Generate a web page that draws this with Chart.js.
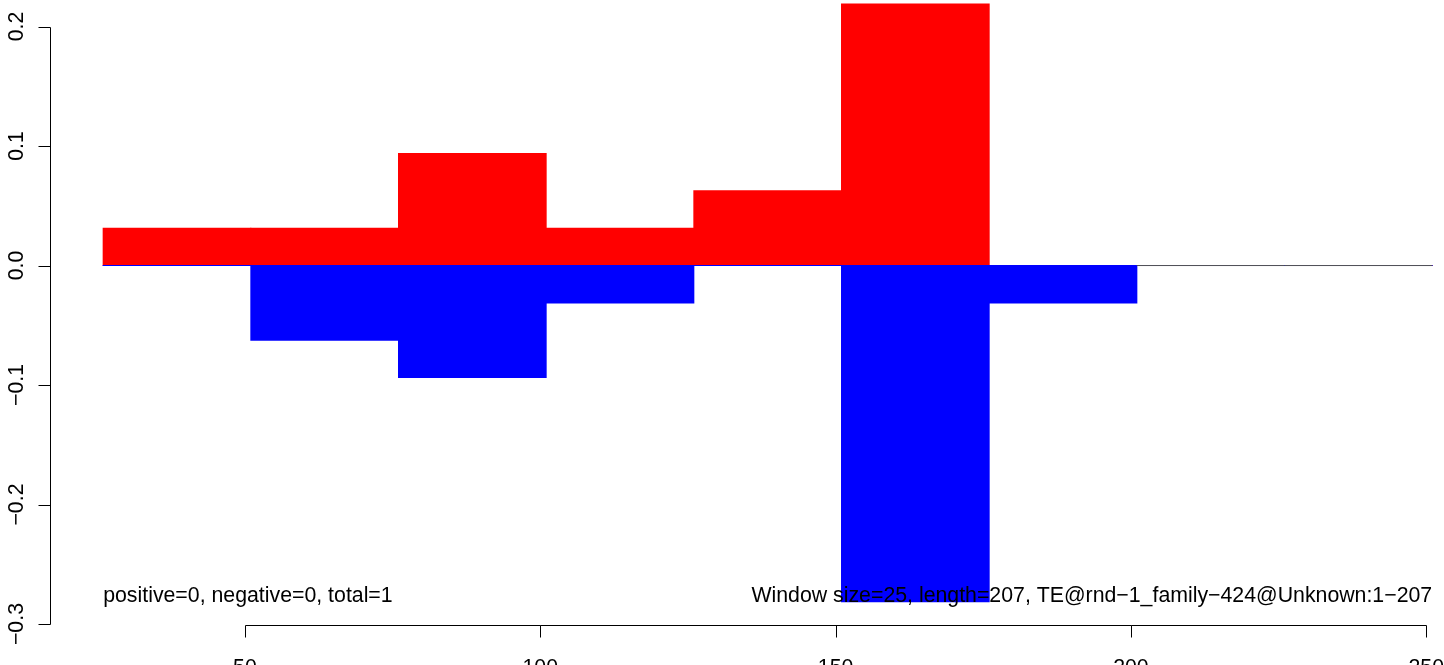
<!DOCTYPE html>
<html>
<head>
<meta charset="utf-8">
<title>TE window plot</title>
<script src="https://cdn.jsdelivr.net/npm/chart.js@4/dist/chart.umd.min.js"></script>
<style>
  html, body { margin: 0; padding: 0; background: #fff; }
  #myChart { display: block; }
</style>
</head>
<body>
<canvas id="myChart" width="1444" height="665"></canvas>
<script>
// window starts (size 25) and the two series
var windowSize = 25;
var windowStarts = [26, 51, 76, 101, 126, 151, 176, 201, 226];
var positiveVals = [0.03125, 0.03125, 0.09375, 0.03125, 0.0625, 0.21875, 0, 0, 0];
var negativeVals = [0, -0.0625, -0.09375, -0.03125, 0, -0.28125, -0.03125, 0, 0];
var xTicks = [50, 100, 150, 200, 250];
var yTicks = [-0.3, -0.2, -0.1, 0.0, 0.1, 0.2];
var yTickLabels = ['\u22120.3', '\u22120.2', '\u22120.1', '0.0', '0.1', '0.2'];
var leftNote = 'positive=0, negative=0, total=1';
var rightNote = 'Window size=25, length=207, TE@rnd\u22121_family\u2212424@Unknown:1\u2212207';

var font = '21.3px "Liberation Sans", Arial, Helvetica, sans-serif';

function barData(vals) {
    var out = [];
    for (var i = 0; i < windowStarts.length; i++) {
        out.push({ x: windowStarts[i] + windowSize / 2, y: vals[i] });
    }
    return out;
}

// thin line where a window has neither positive nor negative value
function emptyWindows() {
    var out = [];
    for (var i = 0; i < windowStarts.length; i++) {
        if (positiveVals[i] === 0 && negativeVals[i] === 0) {
            out.push({ x: windowStarts[i], y: 0 });
            out.push({ x: windowStarts[i] + windowSize, y: 0 });
        } else {
            out.push({ x: windowStarts[i] + windowSize / 2, y: null });
        }
    }
    return out;
}

function crisp(v) {
    return Math.round(v) + 0.5;
}

var rAxes = {
    id: 'rAxes',
    afterDatasetsDraw: function(chart) {
        var ctx = chart.ctx;
        var xs = chart.scales.x;
        var ys = chart.scales.y;
        var area = chart.chartArea;
        ctx.save();
        ctx.strokeStyle = '#000';
        ctx.fillStyle = '#000';
        ctx.lineWidth = 1;
        ctx.font = font;

        // notes at the bottom of the data range
        var yMinData = Math.min.apply(null, negativeVals);
        var xFirst = windowStarts[0];
        var xLast = windowStarts[windowStarts.length - 1] + windowSize;
        ctx.textBaseline = 'alphabetic';
        ctx.textAlign = 'left';
        ctx.fillText(leftNote, xs.getPixelForValue(xFirst), ys.getPixelForValue(yMinData));
        ctx.textAlign = 'right';
        ctx.fillText(rightNote, xs.getPixelForValue(xLast), ys.getPixelForValue(yMinData));

        // y axis
        var ax = crisp(area.left);
        var yTop = ys.getPixelForValue(yTicks[yTicks.length - 1]);
        var yBot = ys.getPixelForValue(yTicks[0]);
        ctx.beginPath();
        ctx.moveTo(ax, crisp(yTop));
        ctx.lineTo(ax, crisp(yBot));
        for (var i = 0; i < yTicks.length; i++) {
            var py = crisp(ys.getPixelForValue(yTicks[i]));
            ctx.moveTo(ax, py);
            ctx.lineTo(ax - 12, py);
        }
        ctx.stroke();
        ctx.textAlign = 'center';
        for (var j = 0; j < yTicks.length; j++) {
            ctx.save();
            ctx.translate(23, ys.getPixelForValue(yTicks[j]));
            ctx.rotate(-Math.PI / 2);
            ctx.fillText(yTickLabels[j], 0, 0);
            ctx.restore();
        }

        // x axis
        var ay = crisp(area.bottom);
        ctx.beginPath();
        ctx.moveTo(crisp(xs.getPixelForValue(xTicks[0])), ay);
        ctx.lineTo(crisp(xs.getPixelForValue(xTicks[xTicks.length - 1])), ay);
        for (var k = 0; k < xTicks.length; k++) {
            var px = crisp(xs.getPixelForValue(xTicks[k]));
            ctx.moveTo(px, ay);
            ctx.lineTo(px, ay + 12);
        }
        ctx.stroke();
        ctx.textAlign = 'center';
        for (var m = 0; m < xTicks.length; m++) {
            ctx.fillText(String(xTicks[m]), xs.getPixelForValue(xTicks[m]), area.bottom + 49);
        }
        ctx.restore();
    }
};

var ctx = document.getElementById('myChart');
var chart = new Chart(ctx, {
    type: 'bar',
    data: {
        datasets: [{
            label: 'positive',
            data: barData(positiveVals),
            backgroundColor: '#ff0000',
            borderWidth: 0,
            inflateAmount: 0.5,
            grouped: false,
            barPercentage: 1,
            categoryPercentage: 1,
            order: 2
        }, {
            label: 'negative',
            data: barData(negativeVals),
            backgroundColor: '#0000ff',
            borderWidth: 0,
            inflateAmount: 0.5,
            grouped: false,
            barPercentage: 1,
            categoryPercentage: 1,
            order: 1
        }, {
            type: 'line',
            label: 'empty',
            data: emptyWindows(),
            borderColor: '#555555',
            borderWidth: 1,
            pointRadius: 0,
            spanGaps: false,
            order: 0
        }]
    },
    options: {
        responsive: false,
        animation: false,
        events: [],
        layout: { padding: { left: 50, top: 0, right: 0, bottom: 40 } },
        plugins: { legend: { display: false }, tooltip: { enabled: false } },
        scales: {
            x: {
                type: 'linear',
                display: false,
                offset: false,
                min: 17,
                max: 253,
                afterBuildTicks: function(scale) {
                    scale.ticks = xTicks.map(function(v) { return { value: v }; });
                }
            },
            y: {
                type: 'linear',
                display: false,
                min: -0.3008,
                max: 0.2222,
                afterBuildTicks: function(scale) {
                    scale.ticks = yTicks.map(function(v) { return { value: v }; });
                }
            }
        }
    },
    plugins: [rAxes]
});
</script>
</body>
</html>
